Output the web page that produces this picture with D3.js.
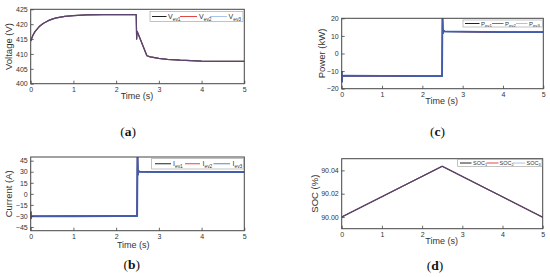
<!DOCTYPE html>
<html><head><meta charset="utf-8">
<script src="https://cdn.jsdelivr.net/npm/d3@7"></script>
<style>
html,body{margin:0;padding:0;background:#fff;}
svg{display:block;font-family:"Liberation Sans",Arial,sans-serif;}
</style></head>
<body><svg id="c" width="550" height="277"></svg>
<script>
// ---------- data ----------
const tV   = [0,0.05,0.1,0.2,0.3,0.4,0.5,0.6,0.8,1.0,1.3,1.7,2.0,2.47,2.48,2.49,2.55,2.65,2.72,2.8,3.0,3.2,3.5,4.0,4.5,5.0];
const vEv1 = [414.3,416.2,417.5,419.2,420.3,421.1,421.7,422.1,422.6,422.9,423.1,423.2,423.2,423.2,415.0,417.6,415.5,411.9,409.4,409.0,408.5,408.2,407.9,407.6,407.5,407.5];
const vEv2 = [414.3,416.2,417.5,419.2,420.3,421.1,421.7,422.1,422.6,422.9,423.1,423.2,423.2,423.2,415.0,417.6,415.5,411.9,409.4,409.0,408.5,408.2,407.9,407.6,407.5,407.5];
const vEv3 = [414.3,416.2,417.5,419.2,420.3,421.1,421.7,422.1,422.6,422.9,423.1,423.2,423.2,423.2,415.0,417.6,415.5,411.9,409.4,409.0,408.5,408.2,407.9,407.6,407.5,407.5];

const tP   = [0,0.004,0.008,0.02,0.05,1.0,2.0,2.49,2.5,2.51,2.53,2.56,3.0,4.0,5.0];
const pEv1 = [-10,-16,-12,-13,-12.6,-12.7,-12.8,-12.8,22,11.5,13,12.5,12.4,12.2,12.1];
const pEv2 = [-10,-16,-12,-13,-12.6,-12.7,-12.8,-12.8,22,11.5,13,12.5,12.4,12.2,12.1];
const pEv3 = [-10,-16,-12,-13,-12.6,-12.7,-12.8,-12.8,22,11.5,13,12.5,12.4,12.2,12.1];

const tI   = [0,0.004,0.008,0.02,1.0,2.0,2.49,2.5,2.51,2.52,2.55,3.0,4.0,5.0];
const iEv1 = [-24,-33,-29,-30.5,-30.3,-30.2,-30.2,52,26,31,30,29.8,29.6,29.5];
const iEv2 = [-24,-33,-29,-30.5,-30.3,-30.2,-30.2,52,26,31,30,29.8,29.6,29.5];
const iEv3 = [-24,-33,-29,-30.5,-30.3,-30.2,-30.2,52,26,31,30,29.8,29.6,29.5];

const tS   = [0,2.5,5.0];
const soc1 = [90.0,90.0435,89.9998];
const soc2 = [90.0,90.0435,89.9998];
const soc3 = [90.0,90.0435,89.9998];

const xTicks = [0,1,2,3,4,5];
const vTicks = [400,405,410,415,420,425];
const pTicks = [-20,-10,0,10,20];
const iTicks = [-45,-30,-15,0,15,30,45];
const sTicks = [90.00,90.02,90.04];

const svg = d3.select("#c");
let clipId = 0;

function panel(o){
  const x = d3.scaleLinear().domain([0,5]).range([o.l,o.r]);
  const y = d3.scaleLinear().domain(o.yDom).range([o.b,o.t]);
  const g = svg.append("g");
  const id = "clip"+(clipId++);
  g.append("clipPath").attr("id",id).append("rect")
    .attr("x",o.l).attr("y",o.t).attr("width",o.r-o.l).attr("height",o.b-o.t);
  const line = d3.line().x(d=>x(d[0])).y(d=>y(d[1]));
  const lg = g.append("g").attr("clip-path",`url(#${id})`);
  o.series.forEach((s,k)=>{
    lg.append("path").datum(o.t_.map((t,i)=>[t,s[i]]))
      .attr("d",line).attr("fill","none")
      .attr("stroke",o.lineColors[k]).attr("stroke-width",o.lineWidths[k])
      .attr("stroke-opacity",o.lineOps[k]).attr("stroke-linejoin","round");
  });
  // axes
  const ax = g.append("g").attr("transform",`translate(0,${o.b})`)
    .call(d3.axisBottom(x).tickValues(xTicks).tickSize(-3).tickPadding(3).tickFormat(d3.format("d")));
  const ay = g.append("g").attr("transform",`translate(${o.l},0)`)
    .call(d3.axisLeft(y).tickValues(o.yTicks).tickSize(-3).tickPadding(3).tickFormat(o.fmt));
  [ax,ay].forEach(a=>{
    a.select(".domain").remove();
    a.selectAll(".tick line").attr("stroke","#444").attr("stroke-width",0.8);
    a.selectAll(".tick text").attr("fill","#333").attr("font-size",7).attr("font-family","Liberation Sans, Arial, sans-serif");
  });
  g.append("rect").attr("x",o.l).attr("y",o.t).attr("width",o.r-o.l).attr("height",o.b-o.t)
    .attr("fill","none").attr("stroke","#444").attr("stroke-width",1);
  // titles
  g.append("text").attr("x",o.xtX).attr("y",o.xtY).attr("text-anchor","middle")
    .attr("font-size",9).attr("fill","#333").text("Time (s)");
  g.append("text").attr("transform",`translate(${o.ytX},${(o.t+o.b)/2}) rotate(-90)`)
    .attr("text-anchor","middle").attr("font-size",9.5).attr("fill","#333").text(o.yTitle);
  // legend
  const L = o.leg;
  g.append("rect").attr("x",L.x0).attr("y",L.y0).attr("width",L.x1-L.x0).attr("height",L.y1-L.y0)
    .attr("fill","#fff").attr("stroke","#999").attr("stroke-width",0.6);
  const ym = (L.y0+L.y1)/2;
  L.items.forEach((it,k)=>{
    g.append("line").attr("x1",it.lx0).attr("x2",it.lx1).attr("y1",ym).attr("y2",ym)
      .attr("stroke",L.colors[k]).attr("stroke-width",1);
    const tx = g.append("text").attr("x",it.tx).attr("y",ym+L.fs*0.35).attr("font-size",L.fs).attr("fill","#333");
    tx.append("tspan").text(L.base);
    tx.append("tspan").attr("font-size",L.fs*0.7).attr("dy",L.fs*0.25).text(L.subs[k]);
  });
  // caption
  const cap = g.append("text").attr("x",o.capX).attr("y",o.capY).attr("text-anchor","middle")
    .attr("font-family","Liberation Serif, Times New Roman, serif").attr("font-size",13.5).attr("fill","#111");
  cap.append("tspan").text("(");
  cap.append("tspan").attr("font-weight","bold").text(o.cap);
  cap.append("tspan").text(")");
}

const legLight = ["#222","#e04848","#a8c4ec"];
const legBlue  = ["#222","#e04848","#4a8ad8"];

panel({l:30.7,r:244.3,t:9.3,b:83.7,yDom:[400,425],yTicks:vTicks,fmt:d3.format("d"),
  t_:tV,series:[vEv1,vEv2,vEv3],
  lineColors:["#000","#d83030","#4a70c8"],lineWidths:[1.2,1.2,1.2],lineOps:[1,0.5,0.5],
  xtX:137,xtY:99,ytX:12,yTitle:"Voltage (V)",
  leg:{x0:150,x1:243,y0:11.5,y1:21.5,fs:7,base:"V",subs:["ev1","ev2","ev3"],colors:legLight,
    items:[{lx0:152,lx1:166.5,tx:168},{lx0:180,lx1:197,tx:199},{lx0:210,lx1:227,tx:228.5}]},
  capX:128,capY:136,cap:"a"});

panel({l:341.7,r:543.3,t:18.3,b:88.7,yDom:[-20,20],yTicks:pTicks,fmt:d3.format("d"),
  t_:tP,series:[pEv1,pEv2,pEv3],
  lineColors:["#000","#d83030","#3560b8"],lineWidths:[1.2,1.2,1.8],lineOps:[1,1,0.9],
  xtX:441.7,xtY:104,ytX:325,yTitle:"Power (kW)",
  leg:{x0:463,x1:542.5,y0:20,y1:27,fs:6,base:"P",subs:["ev1","ev2","ev3"],colors:legLight,
    items:[{lx0:465,lx1:479.5,tx:481},{lx0:492,lx1:503.5,tx:505},{lx0:516,lx1:527.5,tx:529}]},
  capX:437.5,capY:136,cap:"c"});

panel({l:30.7,r:244.3,t:157,b:230.7,yDom:[-50,50],yTicks:iTicks,fmt:d3.format("d"),
  t_:tI,series:[iEv1,iEv2,iEv3],
  lineColors:["#000","#d83030","#3560b8"],lineWidths:[1.2,1.2,2],lineOps:[1,1,0.9],
  xtX:133.3,xtY:247.5,ytX:12,yTitle:"Current (A)",
  leg:{x0:151.7,x1:243.5,y0:158.5,y1:169,fs:7,base:"I",subs:["ev1","ev2","ev3"],colors:legBlue,
    items:[{lx0:155,lx1:171,tx:173},{lx0:185,lx1:200,tx:202.5},{lx0:213.5,lx1:230,tx:232.5}]},
  capX:131.7,capY:269,cap:"b"});

panel({l:341.7,r:542.7,t:158.7,b:228.7,yDom:[89.99,90.05],yTicks:sTicks,fmt:d3.format(".2f"),
  t_:tS,series:[soc1,soc2,soc3],
  lineColors:["#000","#d83030","#4a70c8"],lineWidths:[1.2,1.2,1.2],lineOps:[1,0.5,0.5],
  xtX:441.7,xtY:244,ytX:318,yTitle:"SOC (%)",
  leg:{x0:457.7,x1:542,y0:159.5,y1:166.5,fs:5.5,base:"SOC",subs:["1","2","3"],colors:legLight,
    items:[{lx0:460,lx1:471.5,tx:473},{lx0:486.5,lx1:498.5,tx:499.5},{lx0:512.5,lx1:525,tx:526.5}]},
  capX:435,capY:270,cap:"d"});
</script></body></html>
